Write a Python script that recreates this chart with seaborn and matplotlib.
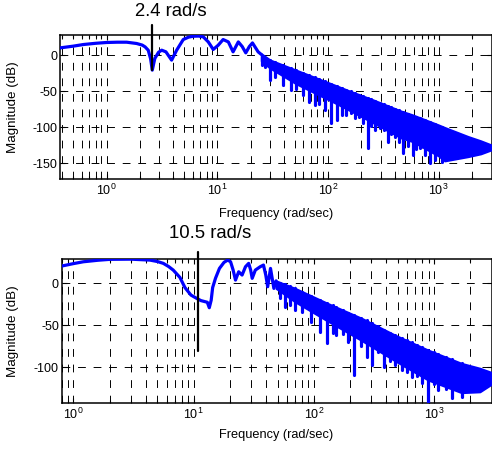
import matplotlib
matplotlib.use("Agg")
import matplotlib.pyplot as plt
import matplotlib.ticker as mticker
import pandas as pd
import seaborn as sns

# ------------------------------------------------------------------ data
# upper panel: resolved part of the magnitude curve (rad/s, dB)
top_freq = [0.38, 0.5, 0.62, 0.8, 1.0, 1.25, 1.52, 1.87, 2.1, 2.23, 2.38, 2.5, 2.59,
            2.73, 2.95, 3.15, 3.44, 3.87, 4.3, 4.93, 5.5, 6.07, 6.8, 7.48, 8.3, 9.2,
            10.2, 11.3, 12.6, 13.9, 15.5, 16.8, 18.1, 19.5, 20.8, 22.3, 23.4, 25.0]
top_mag = [10.1, 12.5, 14.8, 16.5, 17.6, 18.0, 18.0, 16.2, 14.0, 11.5, 6.9, -5.0, -20.8,
           -4.6, 4.0, 6.9, 4.6, -6.9, 6.9, 21.7, 25.0, 26.3, 26.5, 25.4, 18.4, 7.9,
           13.8, 21.7, 18.4, 4.6, 18.4, 12.0, 3.2, 12.0, 17.0, 9.7, 4.6, 1.0]
# upper panel: dense high-frequency band (envelope)
top_band_freq = [25.0, 30.0, 52.0, 115.0, 163.0, 250.0, 460.0, 582.0, 1000.0, 1135.0,
                 1841.0, 2400.0, 2980.0]
top_band_high = [2.0, -6.7, -21.0, -41.6, -50.8, -61.5, -77.8, -83.0, -97.0, -100.5,
                 -113.0, -119.0, -124.6]
top_band_low = [-8.0, -18.0, -40.0, -66.0, -78.0, -93.0, -115.0, -120.0, -140.0, -146.8,
                -140.9, -137.0, -131.6]
# upper panel: anti-resonance notches (frequency, notch depth, band top at notch)
top_notch_freq = [25.2, 27.0, 29.9, 33.0, 38.9, 45.9, 51.9, 58.9, 67.7, 76.0, 83.1, 93.7,
                  105.5, 119.6, 134.0, 147.0, 160.0, 175.0, 190.0, 208.0, 230.0, 245.0,
                  264.0, 293.0, 320.0, 349.0, 370.0, 401.0, 440.0, 478.0, 530.0, 588.0,
                  630.0, 674.0, 749.0, 827.0, 920.0, 1063.0]
top_notch_depth = [-13.9, -16.2, -34.6, -30.0, -41.6, -48.5, -47.5, -55.4, -64.7, -69.3, -67.9,
                   -76.2, -94.6, -90.0, -83.0, -83.0, -80.0, -87.7, -86.0, -94.6, -129.0,
                   -98.0, -104.0, -101.6, -104.0, -120.0, -110.0, -113.0, -120.0, -136.0,
                   -126.0, -138.5, -130.0, -129.0, -138.5, -150.0, -145.0, -148.0]
top_notch_top = [-2.1, -3.9, -6.6, -9.2, -13.5, -17.8, -21.0, -24.3, -27.9, -30.9, -33.3,
                 -36.4, -39.4, -42.7, -45.7, -48.1, -50.4, -52.6, -54.7, -57.1, -59.8,
                 -61.4, -63.4, -66.1, -68.4, -70.6, -72.2, -74.2, -76.6, -78.8, -81.5,
                 -84.2, -86.0, -87.8, -90.5, -93.1, -95.9, -99.7]

# lower panel: resolved part
bot_freq = [0.8, 1.0, 1.21, 1.6, 2.02, 3.0, 4.33, 5.0, 5.6, 6.2, 6.77, 7.7, 8.47, 9.5,
            10.5, 11.5, 13.0, 13.5, 14.0, 14.4, 15.2, 16.4, 17.9, 19.2, 20.3, 21.3,
            22.3, 23.7, 25.3, 27.0, 28.7, 29.8, 30.7, 32.6, 35.8, 38.1, 39.8, 41.3,
            43.6, 46.5, 48.5]
bot_mag = [20.6, 23.5, 25.7, 27.5, 28.6, 28.8, 27.7, 26.0, 23.8, 20.0, 15.8, 7.0, -5.0,
           -13.9, -17.5, -20.5, -22.5, -29.0, -20.0, -5.0, 6.0, 17.8, 25.0, 27.7, 25.7,
           16.0, 3.9, 13.8, 9.9, 19.8, 23.8, 16.0, 6.0, 15.8, 19.8, 21.8, 10.0, -4.0,
           17.8, -6.0, 3.0]
bot_band_freq = [48.5, 70.0, 131.0, 250.0, 472.0, 892.0, 1690.0, 2400.0, 3000.0]
bot_band_high = [3.0, -6.0, -24.0, -41.6, -61.5, -79.4, -95.2, -101.0, -106.0]
bot_band_low = [-6.0, -22.0, -45.0, -68.0, -92.0, -115.0, -130.0, -129.0, -120.0]
bot_notch_freq = [52.3, 57.4, 63.7, 70.3, 79.0, 94.5, 112.0, 128.0, 145.0, 154.0, 175.0,
                  193.0, 216.0, 245.0, 274.0, 305.0, 343.0, 385.0, 430.0, 472.0, 536.0,
                  592.0, 650.0, 720.0, 787.0, 892.0, 1000.0, 1081.0, 1250.0, 1396.0, 1690.0]
bot_notch_depth = [-17.9, -27.8, -25.8, -31.8, -33.8, -45.7, -57.6, -71.4, -59.5, -61.5,
                   -60.0, -69.5, -109.0, -74.0, -87.3, -97.2, -81.4, -99.2, -92.0, -97.2,
                   -103.0, -105.0, -111.0, -110.0, -119.0, -143.0, -120.0, -127.0, -126.0,
                   -137.0, -135.0]
bot_notch_top = [1.0, -1.0, -3.0, -6.0, -10.0, -15.0, -19.5, -23.0, -26.0, -28.0, -31.5,
                 -35.0, -38.0, -41.6, -44.0, -47.0, -51.0, -55.0, -58.5, -61.5, -65.0,
                 -67.0, -70.0, -73.0, -76.0, -79.4, -82.0, -84.0, -87.5, -90.0, -95.2]

top_yticks = [0, -50, -100, -150]
top_yticklabels = ["0", "-50", "-100", "-150"]
bot_yticks = [0, -50, -100]
bot_yticklabels = ["0", "-50", "-100"]

top_marker = (2.6, -21.0, 42.0)      # x, y from, y to
bot_marker = (10.8, -81.0, 37.0)
top_label = ("2.4 rad/s", 3.8, 54.0)
bot_label = ("10.5 rad/s", 13.6, 53.6)

xlabel = "Frequency (rad/sec)"
ylabel = "Magnitude (dB)"

# ------------------------------------------------------------------ style
sns.set_theme(style="white")
plt.rcParams["font.family"] = ["Liberation Sans", "DejaVu Sans"]
plt.rcParams["mathtext.fontset"] = "custom"
plt.rcParams["mathtext.rm"] = "Liberation Sans"
plt.rcParams["lines.solid_joinstyle"] = "round"
plt.rcParams["axes.unicode_minus"] = False

BLUE = (0.0, 0.0, 1.0)
fig = plt.figure(figsize=(4.92, 4.51), dpi=100)
ax_top = fig.add_axes([60 / 492, 1 - 179 / 451, 431.5 / 492, 144 / 451])
ax_bot = fig.add_axes([61.7 / 492, 1 - 402.7 / 451, 429.8 / 492, 143.7 / 451])


def draw(ax, f, m, bf, bh, bl, nf, nd, nt, xlim, ylim, yt, ytl, marker, label,
         ylab_x, xlab_y):
    ax.set_xscale("log")
    ax.fill_between(bf, bl, bh, color=BLUE, lw=1.5, edgecolor=BLUE, zorder=3)
    ax.vlines(nf, nd, nt, colors=[BLUE], lw=2.3, zorder=3, capstyle="round")
    df = pd.DataFrame({"f": f, "m": m})
    sns.lineplot(data=df, x="f", y="m", ax=ax, color=BLUE, lw=2.3, sort=False,
                 estimator=None, zorder=4)
    ax.set_xlim(*xlim)
    ax.set_ylim(*ylim)
    ax.xaxis.set_major_locator(mticker.LogLocator(base=10))
    ax.xaxis.set_minor_locator(mticker.LogLocator(base=10, subs=range(2, 10), numticks=20))
    ax.xaxis.set_minor_formatter(mticker.NullFormatter())
    ax.xaxis.set_major_formatter(mticker.LogFormatterSciNotation())
    ax.set_yticks(yt)
    ax.set_yticklabels(ytl)
    ax.grid(True, which="both", axis="x", color="black", lw=0.7, linestyle=(0, (8, 8)))
    ax.grid(True, which="major", axis="y", color="black", lw=0.7, linestyle=(0, (8, 8)))
    ax.set_axisbelow(True)
    for s in ax.spines.values():
        s.set_visible(True)
        s.set_color("black")
        s.set_linewidth(1.1)
    ax.tick_params(which="both", direction="in", top=True, right=True, bottom=True,
                   left=True, colors="black", labelsize=9)
    ax.tick_params(which="major", length=3.5, width=0.8)
    ax.tick_params(which="minor", length=2.5, width=0.8)
    ax.tick_params(axis="x", pad=3)
    ax.tick_params(axis="y", pad=2)
    ax.set_xlabel(xlabel, fontsize=9.2, color="black")
    ax.set_ylabel(ylabel, fontsize=9.6, color="black")
    ax.yaxis.set_label_coords(ylab_x, 0.5)
    ax.xaxis.set_label_coords(0.5, xlab_y)
    x0, y0, y1 = marker
    ax.plot([x0, x0], [y0, y1], color="black", lw=1.6, clip_on=False, zorder=5)
    txt, tx, ty = label
    ax.text(tx, ty, txt, fontsize=13.3, ha="center", va="baseline", color="black")


draw(ax_top, top_freq, top_mag, top_band_freq, top_band_high, top_band_low,
     top_notch_freq, top_notch_depth, top_notch_top, (0.38, 3000), (-172, 28),
     top_yticks, top_yticklabels, top_marker, top_label, -0.095, -0.2)
draw(ax_bot, bot_freq, bot_mag, bot_band_freq, bot_band_high, bot_band_low,
     bot_notch_freq, bot_notch_depth, bot_notch_top, (0.8, 3000), (-142, 29),
     bot_yticks, bot_yticklabels, bot_marker, bot_label, -0.099, -0.18)

fig.savefig("out.png", dpi=100)
